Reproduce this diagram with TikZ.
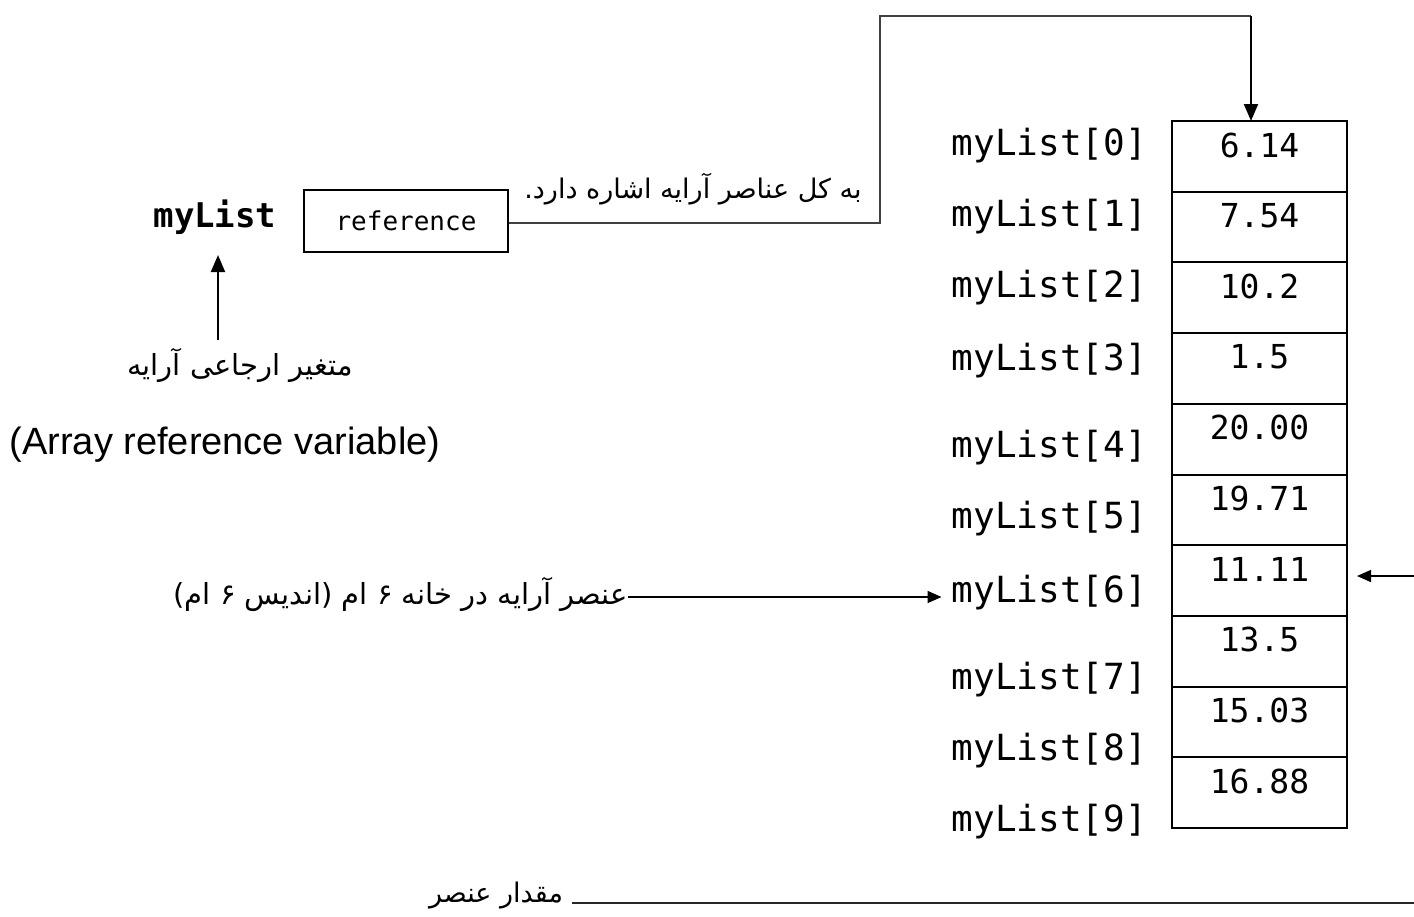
\documentclass[tikz,border=0pt]{standalone}
\usepackage{fontspec}
\setmainfont{Liberation Sans}
\newfontfamily\monof{DejaVu Sans Mono}
\newfontfamily\fa[Script=Arabic]{DejaVu Sans}
\TeXXeTstate=1
\usetikzlibrary{arrows.meta}
\tikzset{
  cell/.style={draw=black, line width=2pt, minimum width=175pt, minimum height=70.7pt, inner sep=0pt},
  val/.style={font=\monof\fontsize{33}{36}\selectfont, inner sep=0pt},
  idx/.style={font=\monof\fontsize{36}{40}\selectfont, anchor=east, inner sep=0pt},
  fatext/.style={font=\fa\fontsize{29}{34}\selectfont, inner sep=0pt},
  conn/.style={draw=black!75, line width=1.2pt},
  tip/.style={-{Triangle[length=17pt,width=14pt]}},
  tipsmall/.style={-{Triangle[length=14pt,width=12pt]}},
}
\begin{document}
\begin{tikzpicture}[x=1pt,y=-1pt]
\useasboundingbox (0,0) rectangle (1414,916);
% array cells
\foreach \i in {0,...,9}{
  \node[cell] (c\i) at (1259.5,{121+70.7*\i+35.35}) {};
}
\foreach \i/\v in {0/6.14,1/7.54,2/10.2,3/1.5,4/20.00,5/19.71,6/11.11,7/13.5,8/15.03,9/16.88}{
  \node[val] (v\i) at (1259.5,{121+70.7*\i+24}) {\v};
}
\foreach \i/\y in {0/146,1/217,2/288,3/361,4/448,5/519,6/593,7/680,8/751,9/822}{
  \node[idx] (l\i) at (1147,\y) {myList[\i]};
}
% reference variable
\node[font=\monof\bfseries\fontsize{34}{38}\selectfont, inner sep=0pt] (ml) at (215,217) {myList};
\node[draw=black, line width=2pt, minimum width=204pt, minimum height=62pt, inner sep=0pt,
      font=\monof\fontsize{26}{30}\selectfont] (ref) at (406,221) {reference};
\node[fatext] (farv) at (240,365) {\fa\beginR متغیر ارجاعی آرایه\endR};
\node[font=\fontsize{38}{42}\selectfont, inner sep=0pt] (eng) at (225,445) {(Array reference variable)};
\coordinate (a0) at (218,340);
\draw[line width=2pt, tip] (a0) -- (218,255);
% connector to array
\coordinate (k1) at (880,223);
\coordinate (k2) at (880,16);
\coordinate (k3) at (1251,16);
\draw[conn] (ref.east |- k1) -- (k1) -- (k2) -- (k3);
\draw[line width=2pt, tip] (k3) -- (1251,121);
\node[fatext, font=\fa\fontsize{27}{32}\selectfont] (fapt) at (693,189) {\fa\beginR به کل عناصر آرایه اشاره دارد.\endR};
% element 6
\node[fatext, anchor=east] (fael) at (628,594) {\fa\beginR عنصر آرایه در خانه ۶ ام (اندیس ۶ ام)\endR};
\draw[line width=1.5pt, tipsmall] (fael.east |- 0,597) -- ([xshift=-10pt]l6.west |- 0,597);
\coordinate (rs) at (1414,576);
\draw[line width=1.5pt, tipsmall] (rs) -- (1357,576);
% element value
\node[fatext, font=\fa\fontsize{27}{32}\selectfont] (faval) at (496,896) {\fa\beginR مقدار عنصر\endR};
\coordinate (bl) at (1414,903);
\draw[line width=2pt, black!85] (572,903) -- (bl);
\end{tikzpicture}
\end{document}
